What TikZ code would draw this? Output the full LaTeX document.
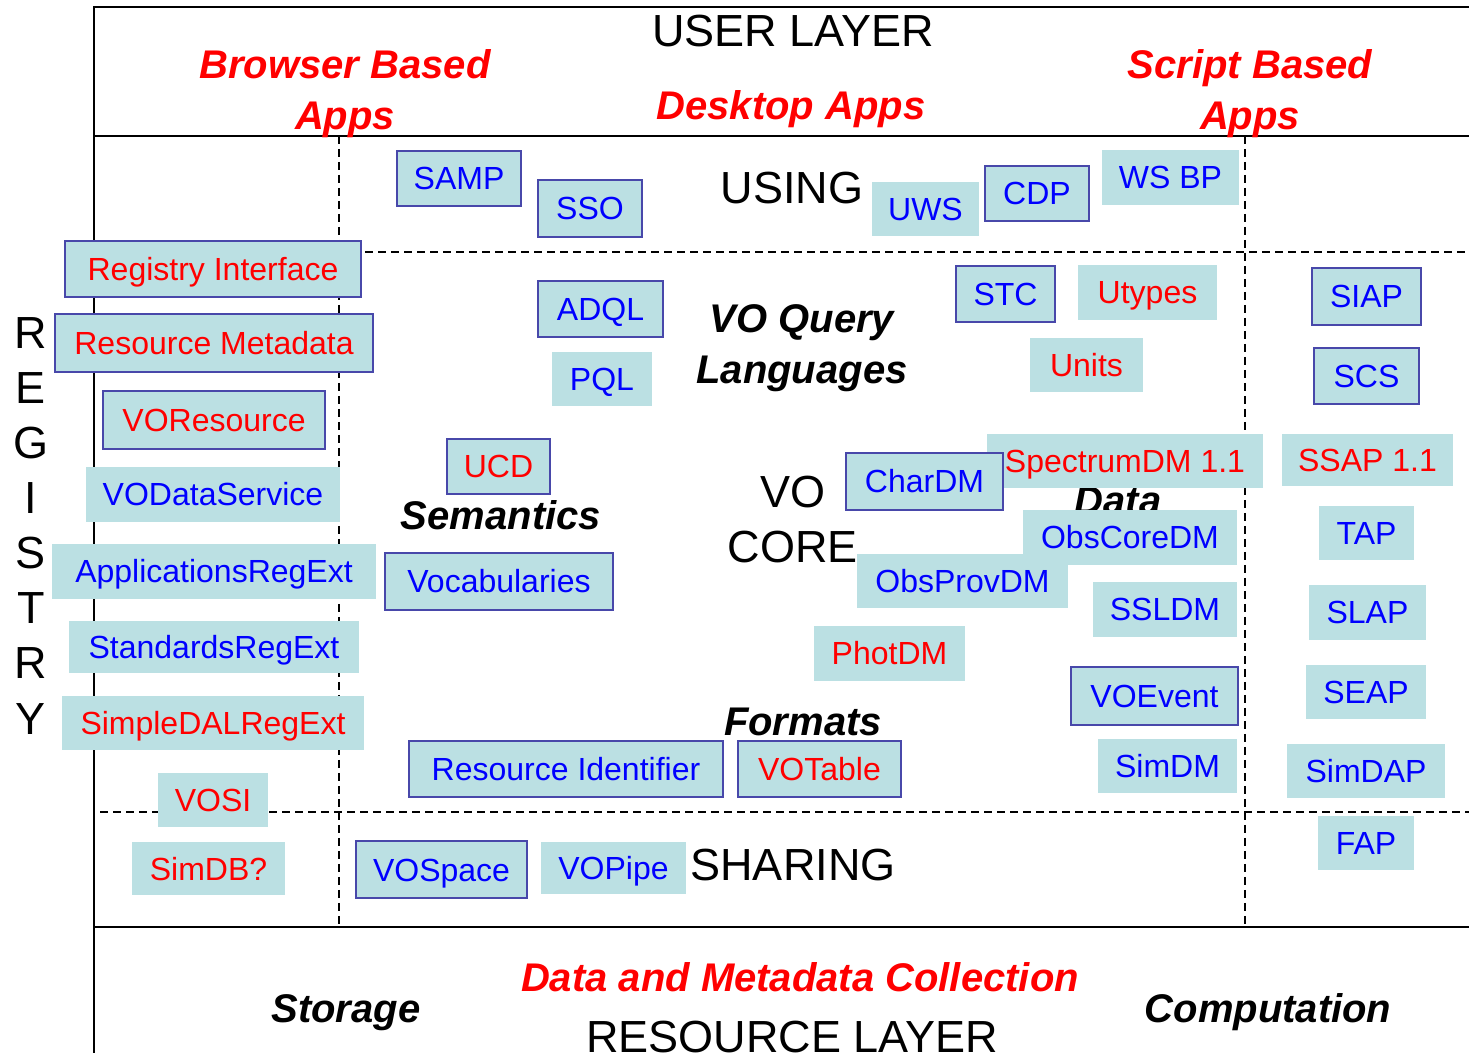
\documentclass[tikz,border=0pt]{standalone}
\usepackage{fontspec}
\setmainfont{Liberation Sans}
\definecolor{tilefill}{RGB}{187,224,227}
\definecolor{tileline}{RGB}{72,72,170}
\definecolor{voblue}{RGB}{0,0,255}
\definecolor{vored}{RGB}{255,0,0}
\tikzset{
  tile/.style={fill=tilefill, inner sep=0pt, text height=11.5pt, text depth=0pt,
    font=\fontsize{16}{19}\selectfont},
  framed/.style={tile, draw=tileline, line width=1pt},
  framedblue/.style={framed, text=voblue},
  framedred/.style={framed, text=vored},
  plainblue/.style={tile, text=voblue},
  plainred/.style={tile, text=vored},
  layer/.style={font=\fontsize{22.5}{27.5}\selectfont, align=center},
  hint/.style={font=\fontsize{20}{25.5}\selectfont\bfseries\itshape, align=center},
  wall/.style={line width=1pt},
  sep/.style={dash pattern=on 4pt off 2.5pt, line width=0.8pt}
}
\begin{document}
\begin{tikzpicture}[x=0.5pt, y=-0.5pt]
        \useasboundingbox (0,0) rectangle (1469,1053);
        %Frame
        \draw[wall] (1469,7) -- (94,7) -- (94,1053);
        \draw[wall] (94,136) -- (1469,136);
        \draw[wall] (94,927) -- (1469,927);
        %Dashed borders
        \draw[sep] (339,136) -- (339,927);
        \draw[sep] (1245,136) -- (1245,927);
        \draw[sep] (339,252) -- (1469,252);
        \draw[sep] (100,812) -- (1469,812);
        %Layer names
        \node[layer, anchor=base] (user) at (793,47) {USER LAYER};
        \node[layer, anchor=base] (using) at (792,204) {USING};
        \node[layer] (core) at (793,520) {VO\\CORE};
        \node[layer, anchor=base] (sharing) at (793,880) {SHARING};
        \node[layer, anchor=base] (resource) at (792,1052) {RESOURCE LAYER};
        %Registry letters
        \foreach \l [count=\i from 0] in {R,E,G,I,S,T,R,Y}
          \node[layer, anchor=base] (reg\i) at (31,{349+55*\i}) {\l};
        %Red group names
        \node[hint, text=vored] (browser) at (345,94) {Browser Based\\Apps};
        \node[hint, text=vored, anchor=base] (desktop) at (791,120) {Desktop Apps};
        \node[hint, text=vored] (script) at (1250,94) {Script Based\\Apps};
        \node[hint, text=vored, anchor=base] (collection) at (800,991) {Data and Metadata Collection};
        %Black group names
        \node[hint] (query) at (802,348) {VO Query\\Languages};
        \node[hint, anchor=base] (semantics) at (501,530) {Semantics};
        \node[hint, anchor=base] (data) at (1118,515) {Data};
        \node[hint, anchor=base] (formats) at (803,736) {Formats};
        \node[hint, anchor=base] (storage) at (346,1022) {Storage};
        \node[hint, anchor=base] (computation) at (1268,1022) {Computation};
        %Standards
        \foreach \nm/\xa/\ya/\xb/\yb/\st/\txt in {
            samp/397/151/521/206/framedblue/SAMP,
            sso/538/180/642/237/framedblue/SSO,
            uws/872/182/979/236/plainblue/UWS,
            cdp/985/166/1089/221/framedblue/CDP,
            wsbp/1102/150/1239/205/plainblue/WS BP,
            reginterface/65/241/361/297/framedred/Registry Interface,
            resmetadata/55/314/373/372/framedred/Resource Metadata,
            voresource/103/391/325/449/framedred/VOResource,
            vodataservice/86/467/340/522/plainblue/VODataService,
            appregext/52/544/376/599/plainblue/ApplicationsRegExt,
            stdregext/69/621/359/673/plainblue/StandardsRegExt,
            sdalregext/62/696/364/750/plainred/SimpleDALRegExt,
            vosi/158/773/268/827/plainred/VOSI,
            simdb/132/842/285/895/plainred/SimDB?,
            vospace/356/841/527/898/framedblue/VOSpace,
            vopipe/541/842/686/894/plainblue/VOPipe,
            adql/538/281/663/337/framedblue/ADQL,
            pql/552/352/652/406/plainblue/PQL,
            stc/956/266/1055/322/framedblue/STC,
            utypes/1078/265/1217/320/plainred/Utypes,
            units/1030/338/1143/392/plainred/Units,
            siap/1312/268/1421/325/framedblue/SIAP,
            scs/1314/348/1419/404/framedblue/SCS,
            spectrumdm/987/434/1263/488/plainred/SpectrumDM 1.1,
            ssap/1282/434/1453/486/plainred/SSAP 1.1,
            chardm/846/453/1003/510/framedblue/CharDM,
            obscoredm/1023/510/1237/565/plainblue/ObsCoreDM,
            obsprovdm/857/554/1068/608/plainblue/ObsProvDM,
            ssldm/1093/582/1237/637/plainblue/SSLDM,
            photdm/814/626/965/681/plainred/PhotDM,
            voevent/1071/667/1238/725/framedblue/VOEvent,
            simdm/1098/739/1237/793/plainblue/SimDM,
            vocabularies/385/553/613/610/framedblue/Vocabularies,
            ucd/447/439/550/494/framedred/UCD,
            resid/409/741/723/797/framedblue/Resource Identifier,
            votable/738/741/901/797/framedred/VOTable,
            tap/1319/506/1414/560/plainblue/TAP,
            slap/1309/585/1426/640/plainblue/SLAP,
            seap/1306/665/1426/719/plainblue/SEAP,
            simdap/1287/744/1445/798/plainblue/SimDAP,
            fap/1318/816/1414/870/plainblue/FAP}
          \node[\st, minimum width={(\xb-\xa)*0.5pt}, minimum height={(\yb-\ya)*0.5pt}]
            (\nm) at ({(\xa+\xb)/2},{(\ya+\yb)/2}) {\txt};
      \end{tikzpicture}
\end{document}
